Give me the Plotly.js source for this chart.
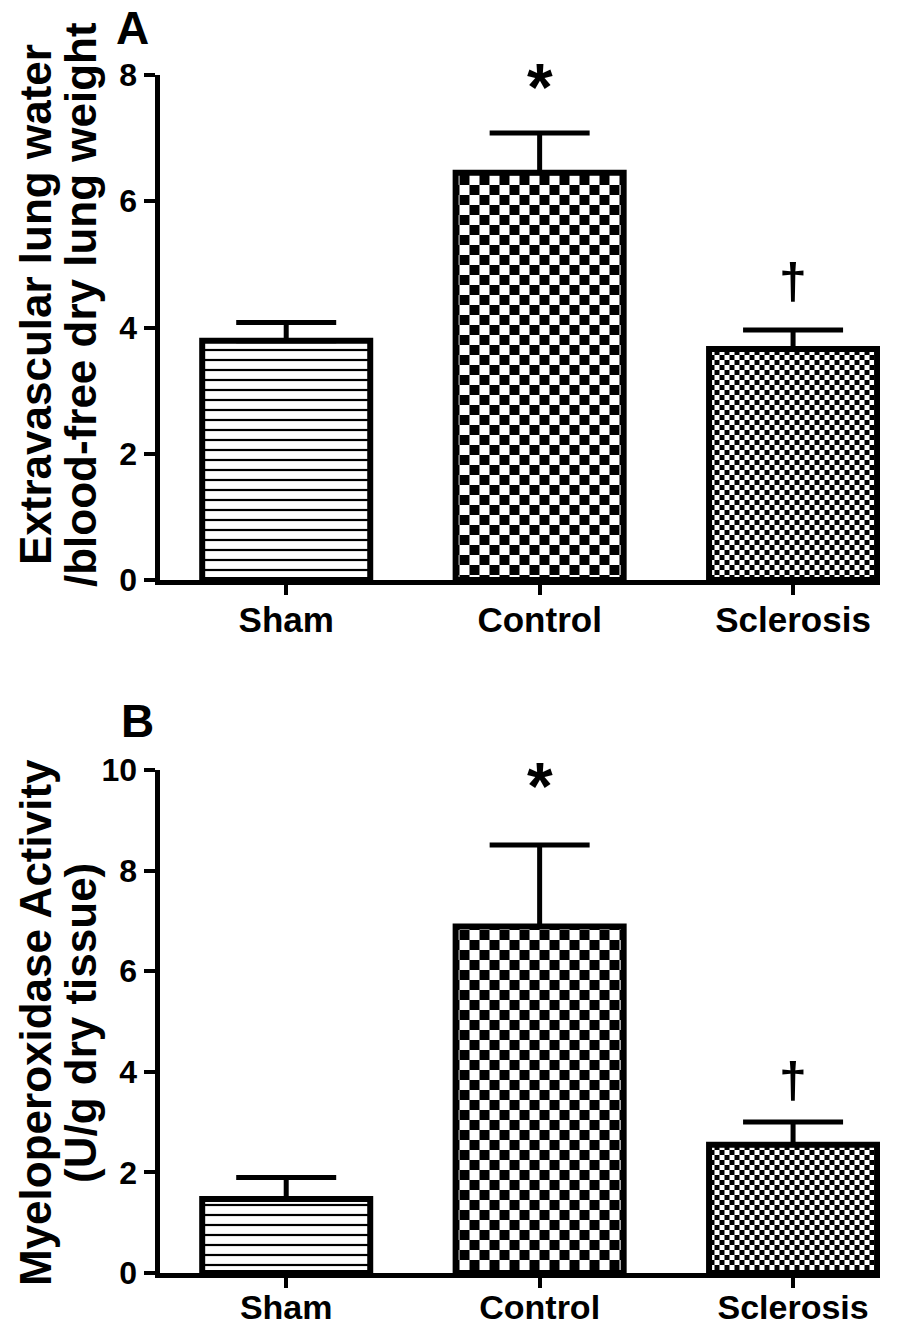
<!DOCTYPE html>
<html><head><meta charset="utf-8">
<script src="https://cdn.plot.ly/plotly-3.0.1.min.js"></script>
<style>html,body{margin:0;padding:0;background:#fff}#chart{width:910px;height:1330px}</style>
</head><body><div id="chart"></div>
<script>
// ---- data ----
const categories = ['Sham', 'Control', 'Sclerosis'];
const waterMeans = [3.79, 6.45, 3.66];
const waterSEM = [0.29, 0.63, 0.30];
const mpoMeans = [1.47, 6.89, 2.55];
const mpoSEM = [0.43, 1.62, 0.45];
const waterTicks = [0, 2, 4, 6, 8];
const mpoTicks = [0, 2, 4, 6, 8, 10];
const waterTitle = ['Extravascular lung water', '/blood-free dry lung weight'];
const mpoTitle = ['Myeloperoxidase Activity', '(U/g dry tissue)'];
const waterMarks = ['', '*', '\u2020'];
const mpoMarks = ['', '*', '\u2020'];
const panelLabels = ['A', 'B'];

// ---- style ----
const FONT = 'Liberation Sans, Arial, Helvetica, sans-serif';
const W = 910, H = 1330;
const px = v => v / W, py = v => 1 - v / H;
const patShape = ['-', '.', '.'];
const patSize = [10, 20, 10];
const patSolid = [0.22, 0.5, 0.5];

function barTrace(means, sem, xa, ya) {
  return {
    type: 'bar', x: categories, y: means, xaxis: xa, yaxis: ya,
    width: 0.663,
    marker: {
      color: 'white',
      line: {color: 'black', width: 6},
      pattern: {shape: patShape, size: patSize, solidity: patSolid,
                fgcolor: 'black', bgcolor: 'white', fillmode: 'replace'}
    },
    error_y: {type: 'data', symmetric: false, array: sem,
              arrayminus: sem.map(() => 0), color: 'black', thickness: 5, width: 50},
    showlegend: false, hoverinfo: 'none'
  };
}

const xDom = [px(159.5), px(880)];
function xAxis(anchor, standoff, fsize) {
  return {
    domain: xDom, anchor: anchor, type: 'category', range: [-0.5, 2.343],
    showline: true, linewidth: 5, linecolor: 'black',
    ticks: 'outside', ticklen: 10, tickwidth: 4, tickcolor: 'black',
    tickfont: {family: FONT, size: fsize, color: 'black', weight: 'bold'},
    ticklabelstandoff: standoff,
    showgrid: false, zeroline: false, fixedrange: true
  };
}
function yAxis(anchor, dom, rng, ticks) {
  return {
    domain: dom, anchor: anchor, range: rng, tickvals: ticks,
    showline: true, linewidth: 5, linecolor: 'black',
    ticks: 'outside', ticklen: 11, tickwidth: 4, tickcolor: 'black',
    tickfont: {family: FONT, size: 32, color: 'black', weight: 'bold'},
    showgrid: false, zeroline: false, fixedrange: true
  };
}

const ann = [];
function titleAnn(lines, yc) {
  const xs = [35, 80];
  lines.forEach((t, i) => ann.push({
    xref: 'paper', yref: 'paper', x: px(xs[i]), y: py(yc), text: t,
    textangle: -90, showarrow: false, xanchor: 'center', yanchor: 'middle',
    font: {family: FONT, size: 44, color: 'black', weight: 'bold'}
  }));
}
titleAnn(waterTitle, 305);
titleAnn(mpoTitle, 1023);

function markAnn(marks, means, sem, xa, ya, shifts) {
  marks.forEach((m, i) => {
    if (!m) return;
    const isStar = m === '*';
    ann.push({
      xref: xa, yref: ya, x: categories[i], y: means[i] + sem[i], text: m,
      showarrow: false, xanchor: 'center', yanchor: 'middle', yshift: shifts[i],
      font: {family: FONT, size: isStar ? 66 : 50, color: 'black', weight: 'bold'}
    });
  });
}
markAnn(waterMarks, waterMeans, waterSEM, 'x', 'y', [0, 46, 49]);
markAnn(mpoMarks, mpoMeans, mpoSEM, 'x2', 'y2', [0, 59, 42]);

const letterPos = [[132, 28], [137, 721]];
panelLabels.forEach((l, i) => ann.push({
  xref: 'paper', yref: 'paper', x: px(letterPos[i][0]), y: py(letterPos[i][1]),
  text: l, showarrow: false, xanchor: 'center', yanchor: 'middle',
  font: {family: FONT, size: 46, color: 'black', weight: 'bold'}
}));

const layout = {
  width: W, height: H, margin: {l: 0, r: 0, t: 0, b: 0},
  paper_bgcolor: 'white', plot_bgcolor: 'white',
  xaxis: xAxis('y', -5, 35),
  yaxis: yAxis('x', [py(580), py(75)], [0, 8], waterTicks),
  xaxis2: xAxis('y2', -10, 34),
  yaxis2: yAxis('x2', [py(1273), py(770)], [0, 10], mpoTicks),
  annotations: ann
};

function checker(gd) {
  const ns = 'http://www.w3.org/2000/svg';
  gd.querySelectorAll('pattern').forEach(p => {
    if (!p.querySelector('circle')) return;
    const w = parseFloat(p.getAttribute('width'));
    const h = w / 2;
    while (p.firstChild) p.removeChild(p.firstChild);
    const mk = (x, y, ww, hh, f) => {
      const r = document.createElementNS(ns, 'rect');
      r.setAttribute('x', x); r.setAttribute('y', y);
      r.setAttribute('width', ww); r.setAttribute('height', hh);
      r.setAttribute('fill', f); r.setAttribute('shape-rendering', 'crispEdges');
      p.appendChild(r);
    };
    mk(0, 0, w, w, '#ffffff'); mk(0, 0, h, h, '#000000'); mk(h, h, h, h, '#000000');
  });
}

const gd = document.getElementById('chart');
Plotly.newPlot(gd, [barTrace(waterMeans, waterSEM, 'x', 'y'), barTrace(mpoMeans, mpoSEM, 'x2', 'y2')],
  layout, {staticPlot: true, displayModeBar: false}).then(() => {
    checker(gd);
    gd.on && gd.on('plotly_afterplot', () => checker(gd));
  });
</script>
</body></html>
